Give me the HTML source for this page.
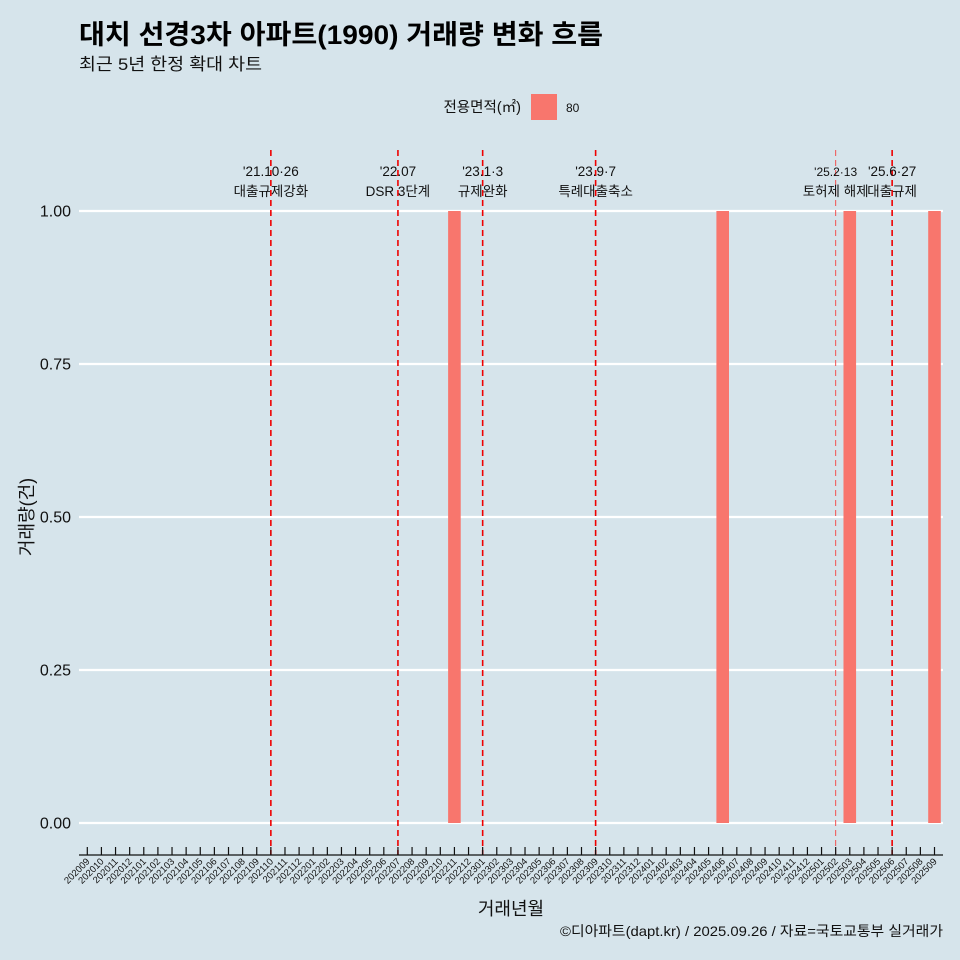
<!DOCTYPE html>
<html><head><meta charset="utf-8"><style>
body{margin:0;background:#d6e4eb;}
svg{display:block;font-family:"Liberation Sans","Noto Sans CJK KR",sans-serif;}
</style></head><body>
<svg id="c" width="960" height="960" viewBox="0 0 960 960">
<rect width="960" height="960" fill="#d6e4eb"/>
<text x="79" y="44" font-size="27" font-weight="bold" fill="#000" textLength="524" lengthAdjust="spacingAndGlyphs">대치 선경3차 아파트(1990) 거래량 변화 흐름</text>
<text x="79" y="70" font-size="17" fill="#111" textLength="183" lengthAdjust="spacingAndGlyphs">최근 5년 한정 확대 차트</text>
<g>
<text x="521" y="112" font-size="14.5" text-anchor="end" fill="#111">전용면적(㎡)</text>
<rect x="531" y="94" width="26" height="26" fill="#f8766d"/>
<text x="566" y="112" font-size="12" fill="#111">80</text>
</g>
<g id="grid"></g><g id="bars"></g><g id="vlines"></g><g id="xaxis"></g><g id="yaxis"></g>
<text x="511" y="915" font-size="18" text-anchor="middle" fill="#111">거래년월</text>
<text transform="translate(33,517) rotate(-90)" font-size="18" text-anchor="middle" fill="#111">거래량(건)</text>
<text x="943" y="936" font-size="14" text-anchor="end" fill="#111" textLength="383" lengthAdjust="spacingAndGlyphs">©디아파트(dapt.kr) / 2025.09.26 / 자료=국토교통부 실거래가</text>
</svg>
<script>
const barMonths=["202211","202406","202503","202509"];
const barValues=[1,1,1,1];
const yTicks=[0,0.25,0.5,0.75,1];
const yTickLabels=["0.00","0.25","0.50","0.75","1.00"];
const eventMonths=["202110","202207","202301","202309","202502","202506"];
const eventLine1=["'21.10·26","'22.07","'23.1·3","'23.9·7","'25.2·13","'25.6·27"];
const eventLine2=["대출규제강화","DSR 3단계","규제완화","특례대출축소","토허제 해제","대출규제"];
const months=[];
for(let y=2020;y<=2025;y++)for(let m=1;m<=12;m++){const k=y*100+m;if(k>=202009&&k<=202509)months.push(String(k));}
const NS="http://www.w3.org/2000/svg";
const x0=87.3,step=14.12;
const xs=k=>x0+months.indexOf(k)*step;
const ys=v=>823-v*612;
function mk(p,t,a){const e=document.createElementNS(NS,t);for(const k in a)e.setAttribute(k,a[k]);p.appendChild(e);return e;}
const grid=document.getElementById('grid'),bars=document.getElementById('bars'),vl=document.getElementById('vlines'),xa=document.getElementById('xaxis'),ya=document.getElementById('yaxis');
yTicks.forEach((v,i)=>{
 const l=mk(grid,'line',{x1:79,x2:943,y1:ys(v),y2:ys(v),stroke:'#fff','stroke-width':2.2});
 
 
 const t=mk(ya,'text',{x:71,y:ys(v)+5.5,'font-size':16,'text-anchor':'end',fill:'#111'});t.textContent=yTickLabels[i];
 
 
});
barMonths.forEach((k,i)=>{
 const r=mk(bars,'rect',{x:xs(k)-6.3,y:ys(barValues[i]),width:12.6,height:ys(0)-ys(barValues[i]),fill:'#f8766d'});
 
 
});
eventMonths.forEach((k,i)=>{
 const x=xs(k);const thin=k==="202502";
 const l=mk(vl,'line',{x1:x,x2:x,y1:150,y2:855,stroke:thin?'#f05050':'#ee0000','stroke-width':thin?1:1.6,'stroke-dasharray':'6 4'});
 
 
 const fs=thin?12:13.5;
 const t1=mk(vl,'text',{x:x,y:176,'font-size':fs,'text-anchor':'middle',fill:'#111'});t1.textContent=eventLine1[i];
 
 
 const t2=mk(vl,'text',{x:x,y:196,'font-size':13.5,'text-anchor':'middle',fill:'#111'});t2.textContent=eventLine2[i];
 
 
});
const ax=mk(xa,'line',{x1:79,x2:943,y1:855,y2:855,stroke:'#111','stroke-width':1.3});


months.forEach(k=>{
 const x=xs(k);
 const tk=mk(xa,'line',{x1:x,x2:x,y1:847,y2:855,stroke:'#111','stroke-width':1.2});
 
 
 const t=mk(xa,'text',{transform:`translate(${x+3},862) rotate(-45)`,'font-size':9.5,'text-anchor':'end',fill:'#111'});t.textContent=k;
 
 
});
</script>
</body></html>
